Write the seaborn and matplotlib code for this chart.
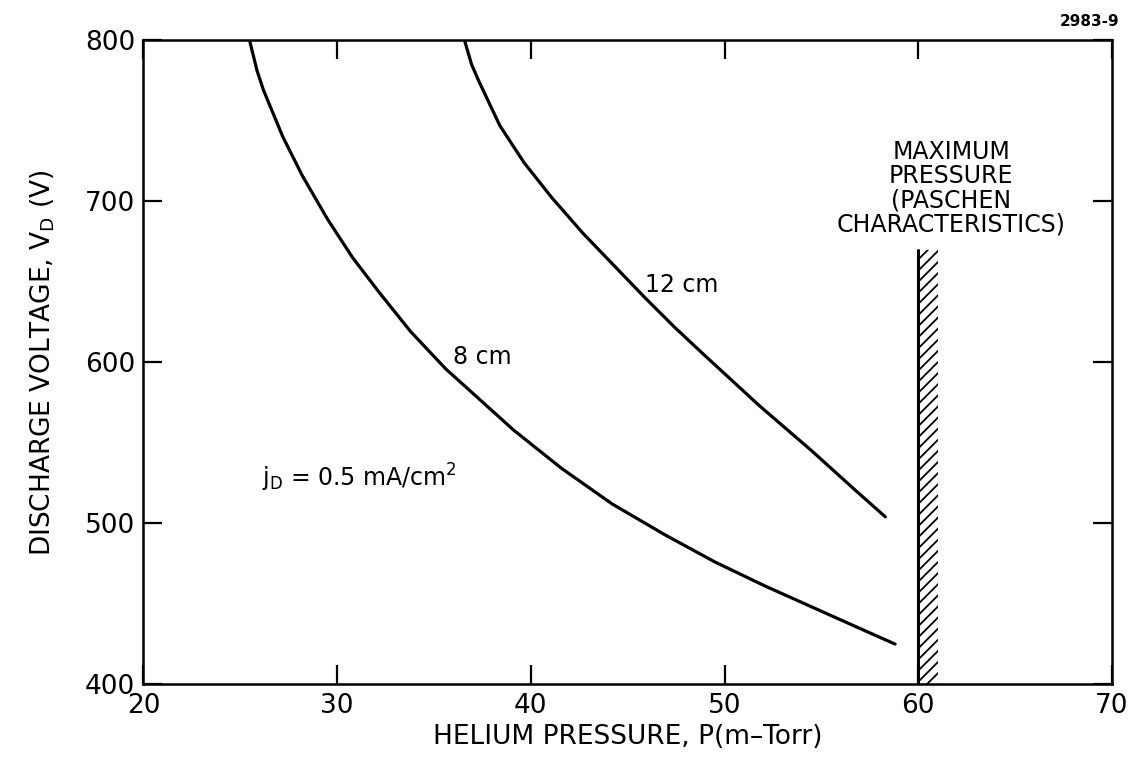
import pandas as pd
import matplotlib.pyplot as plt
import seaborn as sns

# curve values (pressure in m-Torr, voltage in V)
p_8cm = [25.5, 25.87, 26.2, 27.2, 28.2, 29.5, 30.8, 32.2, 33.8, 35.6, 39.1, 41.6,
         44.2, 46.9, 49.5, 52.1, 54.7, 57.3, 58.8]
v_8cm = [799, 781, 769, 740, 716, 689, 665, 643, 619, 596, 558, 534,
         512, 493, 476, 461, 447, 433, 425]
p_12cm = [36.6, 36.94, 37.3, 38.4, 39.65, 41.1, 42.7, 44.3, 45.9, 47.4, 49.0,
          51.8, 54.5, 56.8, 58.3]
v_12cm = [799, 785, 775, 747, 724, 702, 680, 660, 640, 622, 604,
          573, 545, 520, 504]

# Paschen limit
p_max = 60.0
p_max_hatch = 61.0
v_max_top = 670

x_ticks = [20, 30, 40, 50, 60, 70]
y_ticks = [400, 500, 600, 700, 800]

df = pd.concat([
    pd.DataFrame({'P': p_8cm, 'V': v_8cm, 'L': '8 cm'}),
    pd.DataFrame({'P': p_12cm, 'V': v_12cm, 'L': '12 cm'}),
])

sns.set_style("ticks")
plt.rcParams['font.family'] = ['DejaVu Sans']
plt.rcParams['text.color'] = 'black'
plt.rcParams['axes.labelcolor'] = 'black'
plt.rcParams['xtick.color'] = 'black'
plt.rcParams['ytick.color'] = 'black'
plt.rcParams['hatch.linewidth'] = 1.3

fig = plt.figure(figsize=(11.29, 7.75), dpi=100)
ax = fig.add_axes([0.127, 0.117, 0.858, 0.831])

sns.lineplot(data=df, x='P', y='V', units='L', estimator=None,
             color='black', linewidth=2.3, ax=ax, legend=False)

# hatched maximum-pressure boundary
ax.fill_betweenx([400, v_max_top], p_max, p_max_hatch, facecolor='none',
                 edgecolor='black', hatch='///', linewidth=0)
ax.plot([p_max, p_max], [400, v_max_top], color='black', linewidth=2.2)

ax.set_xlim(20, 70)
ax.set_ylim(400, 800)
ax.set_xticks(x_ticks)
ax.set_yticks(y_ticks)
ax.tick_params(direction='in', length=14, width=1.6, top=True, right=True,
               labelsize=19, pad=6)
for s in ax.spines.values():
    s.set_linewidth(1.8)
    s.set_color('black')

ax.set_xlabel('HELIUM PRESSURE, P(m\u2013Torr)', fontsize=19, labelpad=4)
ax.set_ylabel('DISCHARGE VOLTAGE, V$_\\mathregular{D}$ (V)', fontsize=19, labelpad=20)

ax.text(36.0, 603, '8 cm', fontsize=17, ha='left', va='center')
ax.text(45.9, 648, '12 cm', fontsize=17, ha='left', va='center')
ax.text(26.1, 528, 'j$_\\mathregular{D}$ = 0.5 mA/cm$^\\mathregular{2}$', fontsize=17,
        ha='left', va='center')
ax.text(61.7, 708, 'MAXIMUM\nPRESSURE\n(PASCHEN\nCHARACTERISTICS)', fontsize=17,
        ha='center', va='center', linespacing=1.0)

fig.text(0.965, 0.972, '2983-9', fontsize=11, fontweight='bold', ha='center', va='center')

fig.savefig('out.png', dpi=100, facecolor='white')
